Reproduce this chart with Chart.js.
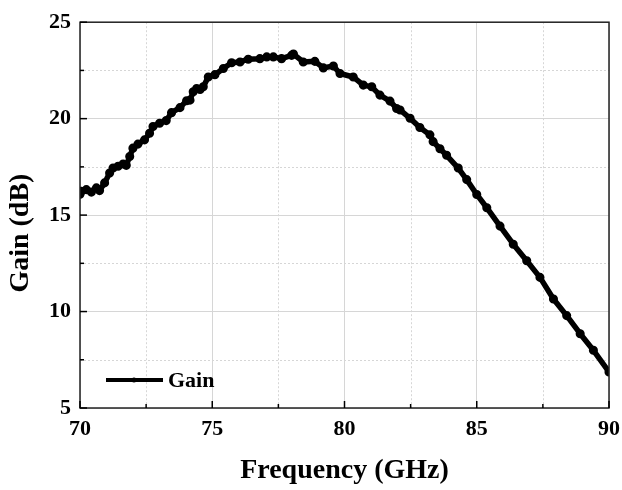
<!DOCTYPE html>
<html>
<head>
<meta charset="utf-8">
<title>Gain vs Frequency</title>
<script src="https://cdn.jsdelivr.net/npm/chart.js@4.4.1/dist/chart.umd.min.js"></script>
<style>
  html, body { margin: 0; padding: 0; background: #fff; }
  #wrap { width: 622px; height: 490px; position: relative; }
</style>
</head>
<body>
<div id="wrap"><canvas id="gainChart"></canvas></div>
<script>
// Measured gain sweep, W-band
const freqGHz = [
  70.00, 70.05, 70.24, 70.43, 70.62, 70.74, 70.93, 71.12, 71.25, 71.44,
  71.63, 71.75, 71.88, 72.00, 72.19, 72.44, 72.63, 72.76, 73.01, 73.26,
  73.46, 73.78, 74.03, 74.16, 74.28, 74.41, 74.54, 74.66, 74.85, 75.10,
  75.42, 75.73, 76.05, 76.36, 76.80, 77.06, 77.31, 77.62, 78.00, 78.07,
  78.44, 78.88, 79.20, 79.58, 79.83, 80.33, 80.71, 81.03, 81.34, 81.72,
  81.97, 82.10, 82.48, 82.85, 83.23, 83.35, 83.61, 83.86, 84.30, 84.62,
  85.00, 85.38, 85.88, 86.38, 86.89, 87.39, 87.90, 88.40, 88.91, 89.41,
  90.00
];
const gainDb = [
  16.08, 16.24, 16.32, 16.19, 16.41, 16.27, 16.67, 17.18, 17.44, 17.53,
  17.65, 17.58, 18.04, 18.47, 18.68, 18.90, 19.24, 19.59, 19.76, 19.90,
  20.31, 20.57, 20.93, 20.96, 21.39, 21.56, 21.51, 21.65, 22.16, 22.28,
  22.60, 22.90, 22.94, 23.08, 23.11, 23.20, 23.20, 23.11, 23.28, 23.35,
  22.94, 22.97, 22.63, 22.73, 22.34, 22.16, 21.74, 21.65, 21.22, 20.91,
  20.53, 20.45, 20.02, 19.54, 19.16, 18.81, 18.44, 18.10, 17.44, 16.84,
  16.07, 15.38, 14.43, 13.49, 12.63, 11.77, 10.65, 9.79, 8.85, 7.99,
  6.87
];
const xTicks = [70, 75, 80, 85, 90];
const yTicks = [5, 10, 15, 20, 25];
const seriesName = 'Gain';
const yTitle = 'Gain (dB)';

const SERIF = '"Liberation Serif", "Times New Roman", serif';
const GRID = '#d6d6d6';

// midpoints between major ticks -> dotted minor grid + short ticks
function minorOf(ticks) {
  const out = [];
  for (let i = 0; i < ticks.length - 1; i++) out.push((ticks[i] + ticks[i + 1]) / 2);
  return out;
}

const framePlugin = {
  id: 'frame',
  beforeDatasetsDraw(chart) {
    const { ctx, chartArea: a, scales: { x, y } } = chart;
    ctx.save();
    ctx.strokeStyle = GRID;
    ctx.lineWidth = 1;
    ctx.setLineDash([2, 2]);
    minorOf(xTicks).forEach(v => {
      const px = Math.round(x.getPixelForValue(v)) + 0.5;
      ctx.beginPath(); ctx.moveTo(px, a.top); ctx.lineTo(px, a.bottom); ctx.stroke();
    });
    minorOf(yTicks).forEach(v => {
      const py = Math.round(y.getPixelForValue(v)) + 0.5;
      ctx.beginPath(); ctx.moveTo(a.left, py); ctx.lineTo(a.right, py); ctx.stroke();
    });
    ctx.restore();
  },
  afterDatasetsDraw(chart) {
    const { ctx, chartArea: a, scales: { x, y } } = chart;
    ctx.save();
    // box
    ctx.strokeStyle = '#222';
    ctx.lineWidth = 1.5;
    ctx.strokeRect(a.left, a.top, a.right - a.left, a.bottom - a.top);
    // inward ticks on bottom and left
    ctx.strokeStyle = '#000';
    ctx.lineWidth = 1.5;
    const tick = (vals, len) => {
      vals.forEach(v => {
        const px = x.getPixelForValue(v);
        ctx.beginPath(); ctx.moveTo(px, a.bottom); ctx.lineTo(px, a.bottom - len); ctx.stroke();
      });
    };
    tick(xTicks, 7);
    tick(minorOf(xTicks), 4);
    const ytick = (vals, len) => {
      vals.forEach(v => {
        const py = y.getPixelForValue(v);
        ctx.beginPath(); ctx.moveTo(a.left, py); ctx.lineTo(a.left + len, py); ctx.stroke();
      });
    };
    ytick(yTicks, 7);
    ytick(minorOf(yTicks), 4);

    // legend, lower left inside the plot
    const lx = a.left + 26, ly = a.bottom - 28;
    ctx.strokeStyle = '#000';
    ctx.lineWidth = 4;
    ctx.beginPath(); ctx.moveTo(lx, ly); ctx.lineTo(lx + 57, ly); ctx.stroke();
    ctx.fillStyle = '#000';
    ctx.beginPath(); ctx.arc(lx + 28, ly, 2.5, 0, Math.PI * 2); ctx.fill();
    ctx.font = 'bold 22px ' + SERIF;
    ctx.textBaseline = 'middle';
    ctx.textAlign = 'left';
    ctx.fillText(seriesName, lx + 62, ly + 1);

    // y-axis title, sits a little below the plot's middle
    ctx.translate(21, (a.top + a.bottom) / 2 + 18);
    ctx.rotate(-Math.PI / 2);
    ctx.textAlign = 'center';
    ctx.font = 'bold 28px ' + SERIF;
    ctx.fillText(yTitle, 0, 0);
    ctx.restore();
  }
};

new Chart(document.getElementById('gainChart'), {
  type: 'scatter',
  data: {
    datasets: [{
      label: seriesName,
      data: freqGHz.map((f, i) => ({ x: f, y: gainDb[i] })),
      showLine: true,
      borderColor: '#000',
      backgroundColor: '#000',
      borderWidth: 5.5,
      borderJoinStyle: 'round',
      borderCapStyle: 'round',
      pointRadius: 1.8,
      pointHoverRadius: 1.8,
      tension: 0,
    }],
  },
  options: {
    responsive: true, maintainAspectRatio: false,
    animation: false,
    devicePixelRatio: 1,
    layout: { padding: { top: 20, right: 13, left: 0, bottom: 0 } },
    plugins: { legend: { display: false }, tooltip: { enabled: false } },
    scales: {
      x: {
        type: 'linear', min: 70, max: 90,
        afterBuildTicks: s => { s.ticks = xTicks.map(v => ({ value: v })); },
        afterFit: s => { s.height = 82; s.paddingRight = 0; s.paddingLeft = 0; },
        grid: { color: GRID, lineWidth: 1, drawTicks: false },
        border: { display: false },
        ticks: { color: '#000', padding: 8, maxRotation: 0, font: { family: SERIF, size: 22, weight: 'bold' } },
        title: {
          display: true, text: 'Frequency (GHz)', color: '#000',
          font: { family: SERIF, size: 28, weight: 'bold' },
          padding: { top: 0, bottom: 2 },
        },
      },
      y: {
        type: 'linear', min: 5, max: 25,
        afterBuildTicks: s => { s.ticks = yTicks.map(v => ({ value: v })); },
        afterFit: s => { s.width = 80; },
        grid: { color: GRID, lineWidth: 1, drawTicks: false },
        border: { display: false },
        ticks: { color: '#000', padding: 9, font: { family: SERIF, size: 22, weight: 'bold' } },
        title: { display: false },
      },
    },
  },
  plugins: [framePlugin],
});
</script>
</body>
</html>
